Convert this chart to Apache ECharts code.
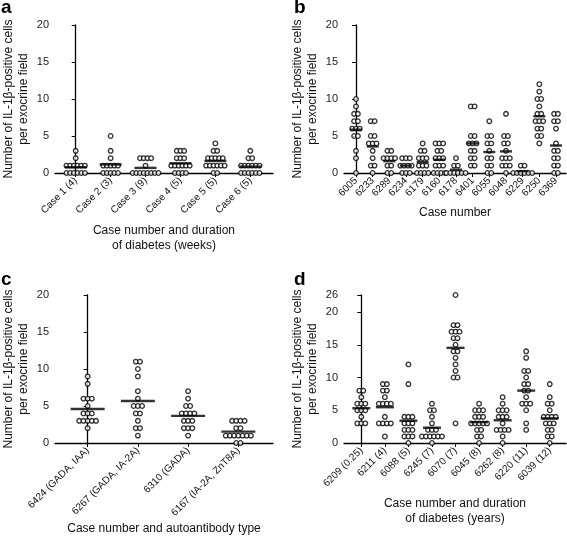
<!DOCTYPE html>
<html><head><meta charset="utf-8">
<script src="https://cdn.jsdelivr.net/npm/echarts@6/dist/echarts.min.js"></script>
<style>html,body{margin:0;padding:0;background:#fff}#c{width:567px;height:539px}</style>
</head><body><div id="c"></div>
<script>
// ---------- DATA ----------
const catsA = ['Case 1 (4)','Case 2 (3)','Case 3 (9)','Case 4 (5)','Case 5 (5)','Case 6 (5)'];
const a1 = [3,2,1,1,1,1,1,1,0,0,0,0,0,0];
const a2 = [5,3,2,1,1,1,1,1,0,0,0,0,0];
const a3 = [2,2,2,2,1,0,0,0,0,0,0,0,0];
const a4 = [3,3,3,2,2,2,1,1,1,1,1,1,0,0,0,0];
const a5 = [4,3,3,2,2,2,2,2,1,1,1,1,1,1,0,0];
const a6 = [3,2,2,1,1,1,1,1,1,0,0,0,0,0,0];

const catsB = ['6005','6233','6289','6234','6179','6160','6178','6401','6055','6048','6229','6250','6369'];
const b6005 = [10,9,8,8,7,7,6,6,6,5,5,3,2,0];
const b6233 = [7,7,5,5,4,4,4,3,2,1,1,0];
const b6289 = [3,3,2,2,2,2,1,1,0,0];
const b6234 = [2,2,2,1,1,1,1,0,0,0];
const b6179 = [4,3,3,2,2,2,1,1,1,0,0,0,0];
const b6160 = [4,4,4,3,3,2,2,2,1,1,1,0,0,0,0];
const b6178 = [2,1,1,0,0,0,0,0,0];
const b6401 = [9,9,5,5,4,4,4,3,3,2,2,1,1];
const b6055 = [7,5,5,4,4,3,2,2,1,1,0,0];
const b6048 = [8,5,5,4,4,3,2,2,2,1,1,1,0];
const b6229 = [1,1,0,0,0,0,0,0];
const b6250 = [12,11,10,10,9,8,8,7,7,7,6,6,5,5,4];
const b6369 = [8,8,7,7,6,4,3,3,2,2,1,1,0,0];

const catsC = ['6424 (GADA, IAA)','6267 (GADA, IA-2A)','6310 (GADA)','6167 (IA-2A, ZnT8A)'];
const c6424 = [9,8,6,6,6,5,4,4,4,3,3,3,3,3,2];
const c6267 = [11,11,10,9,7,6,5,5,5,4,4,3,2,2,1];
const c6310 = [7,6,5,5,4,4,4,4,3,3,3,2,2,2,1];
const c6167 = [3,3,3,3,2,2,1,1,1,1,1,1,1,0,0];

const catsD = ['6209 (0.25)','6211 (4)','6088 (5)','6245 (7)','6070 (7)','6045 (8)','6262 (8)','6220 (11)','6039 (12)'];
const d6209 = [8,8,7,6,6,6,5,5,5,4,3,3,3];
const d6211 = [9,9,8,8,7,6,6,6,6,4,3,3,3,3,1];
const d6088 = [12,9,4,4,4,3,3,3,2,2,2,1,1,1,0];
const d6245 = [6,5,5,4,3,2,2,2,1,1,1,1,1,1,0];
const d6070 = [26,18,18,17,17,17,16,16,15,14,14,13,12,11,10,10,3];
const d6045 = [6,5,5,5,4,4,4,3,3,3,3,3,2,2,1,1,0];
const d6262 = [7,6,5,5,5,4,4,4,3,2,2,2,2,1,0];
const d6220 = [14,13,11,11,10,9,9,8,8,7,6,6,6,5,3,2];
const d6039 = [9,7,6,6,5,4,4,4,4,3,3,3,2,2,1,1,0];

const yTicks = [0,5,10,15,20];
const yTicksD = [0,5,10,15,20,26];
const breakLow = 20, breakHigh = 26, breakSpan = 2.6;

// ---------- HELPERS ----------
const FONT = 'Liberation Sans, Arial, sans-serif';
const identity = v => v;
const mapD = v => v <= breakLow ? v : breakLow + (v - breakLow) * breakSpan / (breakHigh - breakLow);

function panelSeries(gi, groups, spacing, meanW, ymap) {
  const dots = [], means = [];
  groups.forEach((vals, i) => {
    const counts = {};
    vals.forEach(v => counts[v] = (counts[v] || 0) + 1);
    const seen = {};
    vals.forEach(v => {
      const n = counts[v]; const k = seen[v] || 0; seen[v] = k + 1;
      dots.push({value: [i, ymap(v)], symbolOffset: [(k - (n - 1) / 2) * spacing, 0]});
    });
    const mean = vals.reduce((s, v) => s + v, 0) / vals.length;
    means.push([i, ymap(mean)]);
  });
  return [
    {type: 'scatter', xAxisIndex: gi, yAxisIndex: gi, data: dots, symbol: 'circle', symbolSize: 4.6,
     itemStyle: {color: '#fff', borderColor: '#000', borderWidth: 1.3}, z: 2, silent: true, clip: false},
    {type: 'scatter', xAxisIndex: gi, yAxisIndex: gi, data: means, symbol: 'rect', symbolSize: [meanW, 2.4],
     itemStyle: {color: '#000'}, z: 3, silent: true, clip: false}
  ];
}

function xAxisOf(gi, cats, min, max, name, gap) {
  const idx = cats.map((c, i) => i);
  return {
    gridIndex: gi, type: 'value', min: min, max: max,
    splitLine: {show: false},
    axisLine: {show: true, onZero: false, lineStyle: {color: '#000', width: 1.3}},
    axisTick: {show: true, customValues: idx, length: 4, lineStyle: {color: '#000', width: 1}},
    axisLabel: {customValues: idx, rotate: 45, fontSize: 10, color: '#111', fontFamily: FONT, margin: 6,
      formatter: v => cats[Math.round(v)]},
    name: name, nameLocation: 'middle', nameGap: gap,
    nameTextStyle: {fontSize: 12, color: '#111', fontFamily: FONT, lineHeight: 15}
  };
}

function yAxisOf(gi, max, ticks, fmt) {
  const pos = ticks.map(fmt.map);
  return {
    gridIndex: gi, type: 'value', min: 0, max: max,
    splitLine: {show: false},
    axisLine: {show: true, lineStyle: {color: '#000', width: 1.3}},
    axisTick: {show: true, customValues: pos, length: 4, lineStyle: {color: '#000', width: 1}},
    axisLabel: {customValues: pos, fontSize: 11, color: '#222', fontFamily: FONT, margin: 6,
      formatter: v => { const i = pos.findIndex(p => Math.abs(p - v) < 1e-6); return i >= 0 ? String(ticks[i]) : ''; }},
    name: 'Number of IL-1\u03B2-positive cells\nper exocrine field',
    nameLocation: 'middle', nameGap: 24,
    nameTextStyle: {fontSize: 12, color: '#111', fontFamily: FONT, lineHeight: 15}
  };
}

const chart = echarts.init(document.getElementById('c'), null, {renderer: 'canvas'});
const letter = (t, l, tp) => ({text: t, left: l, top: tp, padding: 0,
  textStyle: {fontSize: 19, fontWeight: 'bold', color: '#000', fontFamily: FONT}});

chart.setOption({
  animation: false,
  backgroundColor: '#fff',
  title: [letter('a', 1, -2), letter('b', 294, -2), letter('c', 1, 270), letter('d', 294, 270)],
  grid: [
    {left: 52, top: 25, width: 221, height: 148},
    {left: 344, top: 25, width: 222, height: 148},
    {left: 52, top: 295, width: 221, height: 148},
    {left: 344, top: 295, width: 222, height: 148}
  ],
  xAxis: [
    xAxisOf(0, catsA, -0.593, 5.65, 'Case number and duration\nof diabetes (weeks)', 50),
    xAxisOf(1, catsB, -0.72, 12.6, 'Case number', 32),
    xAxisOf(2, catsC, -0.65, 3.69, 'Case number and autoantibody type', 68),
    xAxisOf(3, catsD, -0.735, 8.69, 'Case number and duration\nof diabetes (years)', 53)
  ],
  yAxis: [
    yAxisOf(0, 20, yTicks, {map: identity}),
    yAxisOf(1, 20, yTicks, {map: identity}),
    yAxisOf(2, 20, yTicks, {map: identity}),
    yAxisOf(3, mapD(breakHigh), yTicksD, {map: mapD})
  ],
  series: [].concat(
    panelSeries(0, [a1,a2,a3,a4,a5,a6], 3.7, 22, identity),
    panelSeries(1, [b6005,b6233,b6289,b6234,b6179,b6160,b6178,b6401,b6055,b6048,b6229,b6250,b6369], 3.8, 12, identity),
    panelSeries(2, [c6424,c6267,c6310,c6167], 4.2, 34, identity),
    panelSeries(3, [d6209,d6211,d6088,d6245,d6070,d6045,d6262,d6220,d6039], 4.0, 18, mapD)
  )
});
</script></body></html>
